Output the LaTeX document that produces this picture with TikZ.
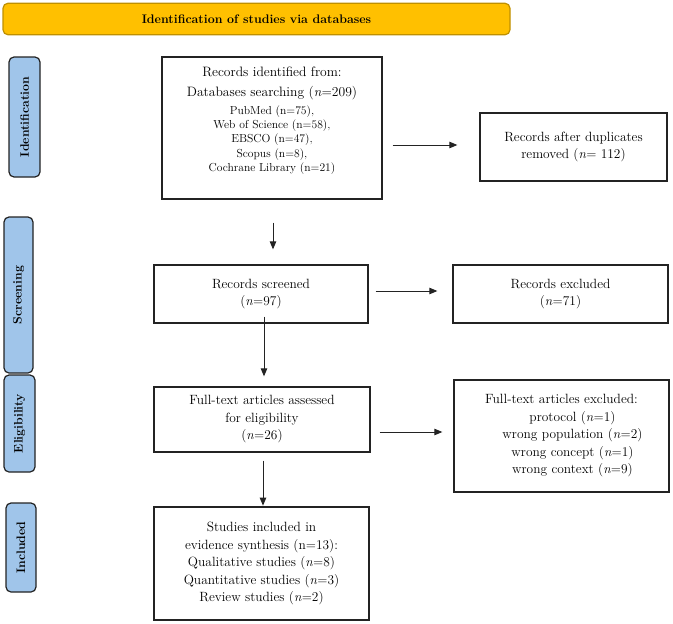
\documentclass[tikz,border=0pt]{standalone}
\usepackage{fontspec}
\usetikzlibrary{arrows.meta}
\definecolor{hdrfill}{RGB}{255,192,0}
\definecolor{hdrline}{RGB}{191,144,0}
\definecolor{labfill}{RGB}{160,197,234}
\definecolor{inkc}{RGB}{35,35,35}
\tikzset{
  box/.style={draw=inkc, line width=1.3pt, rectangle, align=center, inner sep=0pt,
    font=\fontsize{13.4}{17.5}\selectfont},
  lab/.style={draw=inkc, line width=1.2pt, fill=labfill, rounded corners=5pt, rotate=90,
    inner sep=0pt, font=\bfseries\fontsize{12.3}{14}\selectfont},
  hdr/.style={draw=hdrline, line width=1.2pt, fill=hdrfill, rounded corners=5pt,
    inner sep=0pt, font=\bfseries\fontsize{12.4}{14}\selectfont},
  arr/.style={draw=inkc, line width=0.9pt, -{Triangle[length=8pt,width=6.5pt]}},
  txt/.style={inner sep=0pt, align=center},
}
\begin{document}
\begin{tikzpicture}[x=1pt,y=-1pt]
\useasboundingbox (0,0) rectangle (673,624);
% header
\node[hdr, minimum width=507pt, minimum height=31.5pt] (hdr) at (256.5,19) {Identification of studies via databases};
% side labels
\node[lab, minimum width=120pt, minimum height=31pt] (lid) at (24.5,117) {Identification};
\node[lab, minimum width=156pt, minimum height=29pt] (lsc) at (18.5,295) {Screening};
\node[lab, minimum width=97pt, minimum height=31pt] (lel) at (19.5,423.5) {Eligibility};
\node[lab, minimum width=89pt, minimum height=30pt] (lin) at (21,547.5) {Included};
% boxes
\node[box, minimum width=220pt, minimum height=142pt] (b1) at (272,128) {};
\node[txt, font=\fontsize{11.6}{14.3}\selectfont] (b1t) at (272,121) {%
  \begin{tabular}{@{}c@{}}
  {\fontsize{13.6}{16}\selectfont Records identified from:}\\[5.7pt]
  {\fontsize{13.6}{16}\selectfont Databases searching (\textit{n}=209)}\\[3.7pt]
  PubMed (n=75),\\
  Web of Science (n=58),\\
  EBSCO (n=47),\\
  Scopus (n=8),\\
  Cochrane Library (n=21)
  \end{tabular}};
\node[box, minimum width=187pt, minimum height=68pt] (dup) at (573.5,147) {Records after duplicates\\removed (\textit{n}= 112)};
\node[box, minimum width=214pt, minimum height=58pt] (b2) at (261,294) {Records screened\\(\textit{n}=97)};
\node[box, minimum width=215pt, minimum height=58pt] (b3) at (560.5,294) {Records excluded\\(\textit{n}=71)};
\node[box, minimum width=216pt, minimum height=65pt] (b4) at (262,419.5) {Full-text articles assessed\\for eligibility\\(\textit{n}=26)};
\node[box, minimum width=215pt, minimum height=112pt] (b5) at (561.5,436) {Full-text articles excluded:\\
  \hspace*{22pt}protocol (\textit{n}=1)\\
  \hspace*{22pt}wrong population (\textit{n}=2)\\
  \hspace*{22pt}wrong concept (\textit{n}=1)\\
  \hspace*{22pt}wrong context (\textit{n}=9)};
\node[box, minimum width=215pt, minimum height=113pt] (b6) at (261.5,563.5) {Studies included in\\evidence synthesis (n=13):\\Qualitative studies (\textit{n}=8)\\Quantitative studies (\textit{n}=3)\\Review studies (\textit{n}=2)};
% connectors
\coordinate (dupin) at ([yshift=2pt]dup.west);
\draw[arr, shorten <=10pt, shorten >=22pt] (b1.east |- dupin) -- (dupin);
\coordinate (b1out) at ([xshift=1pt]b1.south);
\draw[arr, shorten <=23pt, shorten >=15pt] (b1out) -- (b1out |- b2.north);
\coordinate (b3in) at ([yshift=3pt]b3.west);
\draw[arr, shorten <=7pt, shorten >=15pt] (b2.east |- b3in) -- (b3in);
\coordinate (b2out) at ([xshift=3pt]b2.south);
\draw[arr, shorten <=-7pt, shorten >=10pt] (b2out) -- (b2out |- b4.north);
\coordinate (b4r) at ([yshift=-12.5pt]b4.east);
\draw[arr, shorten <=9pt, shorten >=11pt] (b4r) -- (b4r -| b5.west);
\coordinate (b4out) at ([xshift=1pt]b4.south);
\draw[arr, shorten <=8pt, shorten >=0.7pt] (b4out) -- (b4out |- b6.north);
\end{tikzpicture}
\end{document}
